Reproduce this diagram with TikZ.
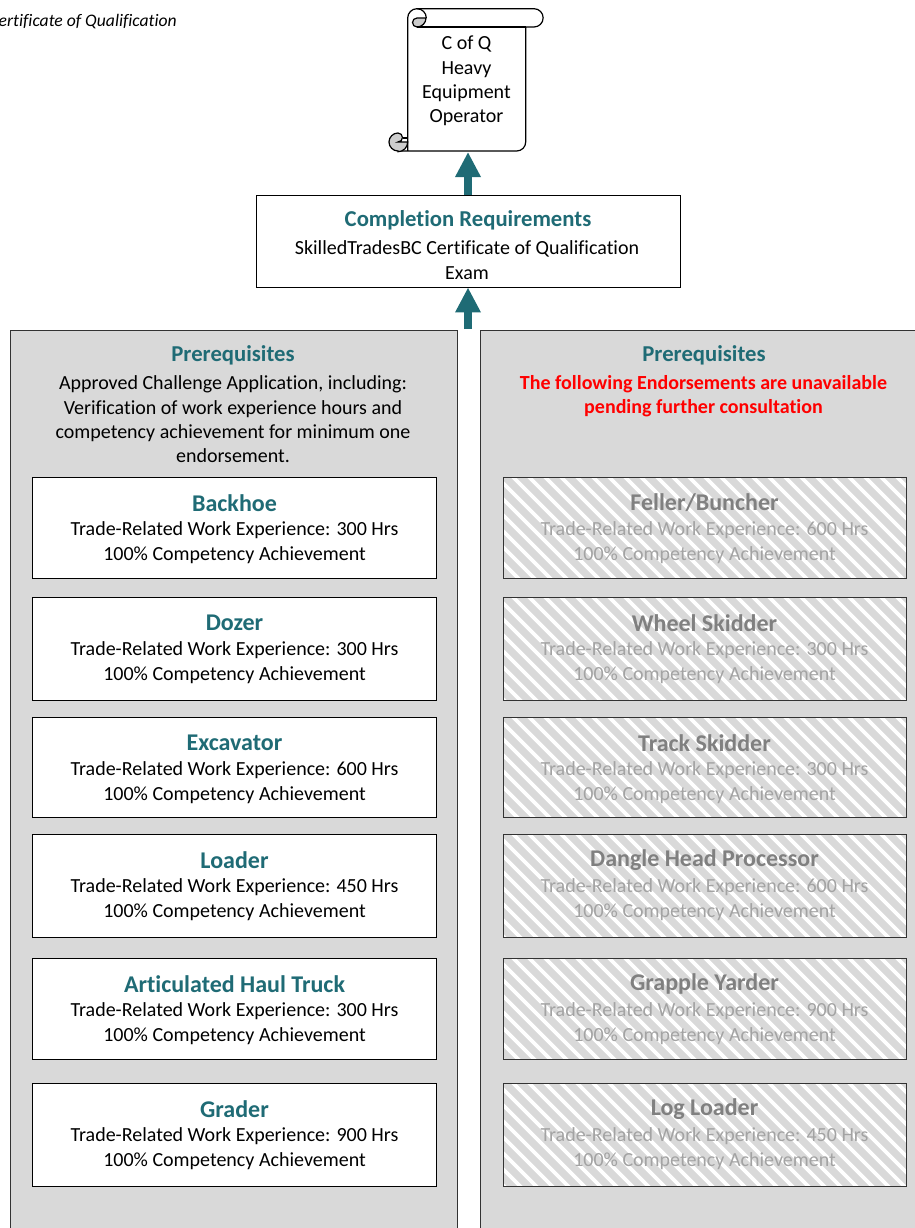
\documentclass[tikz,border=0pt]{standalone}
\usepackage{fontspec}
\setmainfont[Ligatures=NoCommon]{Carlito}
\usetikzlibrary{arrows.meta}
\definecolor{tealhead}{HTML}{1F6B75}
\definecolor{panelgrey}{HTML}{D9D9D9}
\definecolor{curlgrey}{HTML}{CDCDCD}
\tikzset{
	panel/.style={draw=black!80, fill=panelgrey, line width=0.9pt},
	box/.style={draw=black, fill=white, line width=0.9pt},
	scrolled/.style={draw=black, line width=1.2pt},
	uparrow/.style={draw=tealhead, line width=8pt, -{Triangle[width=24pt,length=25pt]}},
	head/.style={font=\fontsize{22.7}{24}\selectfont\bfseries, text=tealhead},
	boxhead/.style={font=\fontsize{24}{26}\selectfont\bfseries, text=tealhead},
	body/.style={font=\fontsize{20}{24.4}\selectfont, text=black, align=center},
	ghosthead/.style={font=\fontsize{24}{26}\selectfont\bfseries, text=black!50},
	ghostbody/.style={font=\fontsize{20}{24.4}\selectfont, text=black!36, align=center}
}
\begin{document}
\begin{tikzpicture}[x=1pt,y=-1pt]
	\useasboundingbox (0,0) rectangle (914,1228);
	
	\node[font=\fontsize{17.6}{20}\selectfont\itshape, anchor=east, inner sep=0pt] (note) at (177,21.5) {Certificate of Qualification};
	
	% panels
	\draw[panel] (10,1240) -- (10,330) -- (457,330) -- (457,1240);
	\draw[panel] (480,1240) -- (480,330) -- (930,330) -- (930,1240);
	\coordinate (paneltop) at (468,329);
	
	% scroll
	\draw[scrolled, fill=white] (407.7,18) arc (180:270:9.3) -- (534,8.7) arc (270:450:9.15) -- (525.7,27) -- (525.7,142) arc (0:90:9) -- (398,151) -- (407.7,151) -- cycle;
	\draw[scrolled, fill=curlgrey] (426,18) arc (0:90:9) arc (90:270:4.5) -- cycle;
	\draw[scrolled] (417,8.7) arc (270:360:9.3);
	\draw[scrolled] (417,27) -- (525.7,27);
	\draw[scrolled, fill=curlgrey] (398,151) arc (90:270:9) arc (270:450:4.5) -- (407.7,142) arc (0:90:9.7) -- cycle;
	\draw[scrolled] (402.5,138) -- (407.7,138);
	\node[body] (scrolltext) at (466.5,81) {C of Q\\Heavy\\Equipment\\Operator};
	\coordinate (scrollbase) at (468,152);
	
	% completion
	\node[box, minimum width=424pt, minimum height=92pt, inner sep=0pt] (completion) at (468,241) {};
	\node[head] (completionhead) at (468,220.5) {Completion Requirements};
	\node[body] (completiontext) at (467,260) {SkilledTradesBC Certificate of Qualification\\Exam};
	\draw[uparrow] (completion.north) -- (scrollbase);
	\draw[uparrow] (paneltop) -- (completion.south);
	
	% left panel
	\node[head] (prereqleft) at (233,355.5) {Prerequisites};
	\node[body] (prereqlefttext) at (233,419.5) {Approved Challenge Application, including:\\Verification of work experience hours and\\competency achievement for minimum one\\endorsement.};
	\foreach \name/\ya/\yb/\hrs in {Backhoe/477/578/300, Dozer/597/700/300, Excavator/717/817/600, Loader/834/937/450, Articulated Haul Truck/958/1059/300, Grader/1083/1186/900}{
		\node[box, minimum width=404pt, minimum height=\yb pt-\ya pt, inner sep=0pt] (leftbox) at (234.5,{(\ya+\yb)/2}) {};
		\node[boxhead] (lefthead) at (234.5,\ya+26) {\name};
		\node[body] (leftbody) at (234.5,\ya+65.5) {Trade-Related Work Experience: \hrs{} Hrs\\100\% Competency Achievement};
	}
	
	% right panel
	\node[head] (prereqright) at (704,355.5) {Prerequisites};
	\node[body, text=red, font=\fontsize{20}{24.4}\selectfont\bfseries] (prereqrighttext) at (703.5,396) {The following Endorsements are unavailable\\pending further consultation};
	\foreach \name/\ya/\yb/\hrs in {{Feller/Buncher}/477/578/600, Wheel Skidder/597/700/300, Track Skidder/717/817/300, Dangle Head Processor/834/937/600, Grapple Yarder/958/1059/900, Log Loader/1083/1186/450}{
		\begin{scope}
			\clip (503,\ya) rectangle (906,\yb);
			\fill[panelgrey] (503,\ya) rectangle (906,\yb);
			\foreach \i in {0,16,...,544}{
				\draw[white, line width=3.6pt] (\i+380,\ya-5) -- +(120,120);
			}
		\end{scope}
		\node[draw=black!80, line width=0.9pt, minimum width=403pt, minimum height=\yb pt-\ya pt, inner sep=0pt] (rightbox) at (704.5,{(\ya+\yb)/2}) {};
		\node[ghosthead] (righthead) at (704.5,\ya+26) {\name};
		\node[ghostbody] (rightbody) at (704.5,\ya+65.5) {Trade-Related Work Experience: \hrs{} Hrs\\100\% Competency Achievement};
	}
\end{tikzpicture}
\end{document}
